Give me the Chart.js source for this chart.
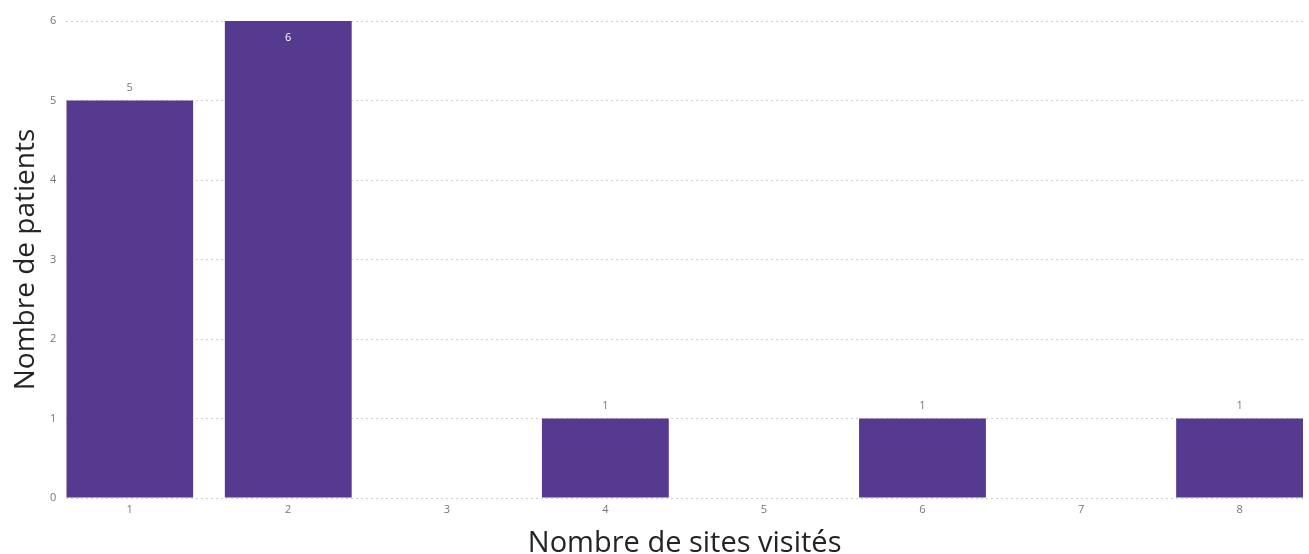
<!DOCTYPE html>
<html>
<head>
<meta charset="utf-8">
<script src="https://cdn.jsdelivr.net/npm/chart.js@4.4.1/dist/chart.umd.min.js"></script>
<style>
  html, body { margin: 0; padding: 0; background: #fff; }
  #wrap { width: 1309px; height: 554px; }
</style>
</head>
<body>
<div id="wrap"><canvas id="monGraphique" width="1309" height="554"></canvas></div>
<script>
// données
const sitesVisites = [1, 2, 4, 6, 8];
const nbPatients = [5, 6, 1, 1, 1];
const ticksX = [1, 2, 3, 4, 5, 6, 7, 8];
const ticksY = [0, 1, 2, 3, 4, 5, 6];

const violet = '#563A8F';
const gris = '#777777';

// étiquettes de valeur au-dessus des barres (ou dedans si pas de place)
const etiquettes = {
    id: 'etiquettes',
    afterDatasetsDraw(chart) {
        const ctx = chart.ctx;
        const meta = chart.getDatasetMeta(0);
        ctx.save();
        ctx.font = '11px "Open Sans"';
        ctx.textAlign = 'center';
        ctx.textBaseline = 'middle';
        meta.data.forEach((bar, i) => {
            const v = chart.data.datasets[0].data[i].y;
            if (bar.y - 16 < chart.chartArea.top) {
                ctx.fillStyle = '#ffffff';
                ctx.fillText(v, bar.x, bar.y + 17);
            } else {
                ctx.fillStyle = gris;
                ctx.fillText(v, bar.x, bar.y - 13);
            }
        });
        ctx.restore();
    }
};

const ctx = document.getElementById('monGraphique').getContext('2d');

const data = {
    datasets: [{
        label: 'Nombre de patients',
        data: sitesVisites.map((x, i) => ({ x: x, y: nbPatients[i] })),
        backgroundColor: violet,
        barPercentage: 0.8,
        categoryPercentage: 1.0
    }]
};

const config = {
    type: 'bar',
    data: data,
    plugins: [etiquettes],
    options: {
        responsive: false,
        animation: false,
        layout: { padding: { top: 21, right: 6, left: 12, bottom: -10 } },
        plugins: {
            legend: { display: false },
            tooltip: { enabled: false }
        },
        scales: {
            x: {
                type: 'linear',
                min: 0.6,
                max: 8.4,
                offset: false,
                afterBuildTicks: s => { s.ticks = ticksX.map(v => ({ value: v })); },
                grid: { display: false, drawTicks: false },
                border: { display: false },
                ticks: { color: gris, font: { family: 'Open Sans', size: 11 }, padding: 5 },
                title: {
                    display: true,
                    text: 'Nombre de sites visités',
                    color: '#252423',
                    font: { family: 'Open Sans', size: 29 },
                    padding: { top: 5, bottom: 3 }
                }
            },
            y: {
                min: 0,
                max: 6,
                afterBuildTicks: s => { s.ticks = ticksY.map(v => ({ value: v })); },
                grid: {
                    color: '#cfcfcf',
                    lineWidth: 1,
                    drawTicks: false
                },
                border: { display: false, dash: [2, 3] },
                ticks: { color: gris, font: { family: 'Open Sans', size: 11 }, padding: 10 },
                title: {
                    display: true,
                    text: 'Nombre de patients',
                    color: '#252423',
                    font: { family: 'Open Sans', size: 28, lineHeight: 1 },
                    padding: { top: 0, bottom: 0 }
                }
            }
        }
    }
};

const monGraphique = new Chart(ctx, config);
</script>
</body>
</html>
